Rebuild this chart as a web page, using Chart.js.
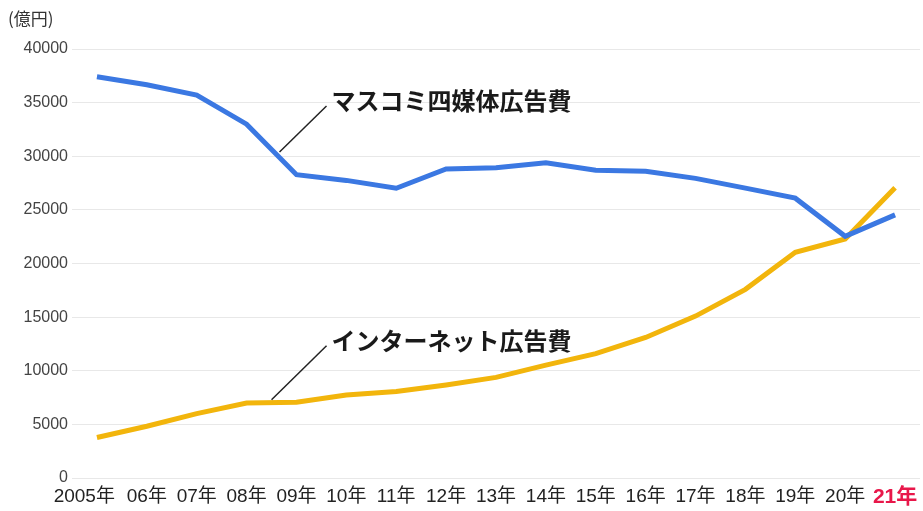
<!DOCTYPE html>
<html>
<head>
<meta charset="utf-8">
<script src="https://cdn.jsdelivr.net/npm/chart.js@4.4.1/dist/chart.umd.min.js"></script>
<style>
  html, body { margin: 0; padding: 0; background: #fff; }
  #wrap { width: 923px; height: 511px; position: relative; }
</style>
</head>
<body>
<div id="wrap"><canvas id="chart"></canvas></div>
<script>
var years = ['2005年', '06年', '07年', '08年', '09年', '10年', '11年', '12年', '13年', '14年', '15年', '16年', '17年', '18年', '19年', '20年', '21年'];
var massMedia = [37408, 36668, 35699, 32995, 28282, 27749, 27016, 28809, 28935, 29393, 28699, 28596, 27938, 27026, 26094, 22536, 24538];
var internet = [3777, 4826, 6003, 6983, 7069, 7747, 8062, 8680, 9381, 10519, 11594, 13100, 15094, 17589, 21048, 22290, 27052];
var yTicks = [0, 5000, 10000, 15000, 20000, 25000, 30000, 35000, 40000];

var lbl = "'Liberation Sans', 'Noto Sans CJK JP', sans-serif";
var jp = "'Noto Sans CJK JP', sans-serif";

// labels with leader lines, anchored to a point on each line (index, value)
var callouts = [
    { text: 'マスコミ四媒体広告費', at: [3.66, 30400], dx: 47, dy: -46 },
    { text: 'インターネット広告費', at: [3.5, 7300], dx: 55, dy: -54 }
];

var extras = {
    id: 'extras',
    afterDraw: function (chart) {
        var c = chart.ctx, x = chart.scales.x, y = chart.scales.y;
        c.save();
        // unit
        c.fillStyle = '#333';
        c.font = '17px ' + jp;
        c.textAlign = 'left';
        c.textBaseline = 'middle';
        c.fillText('(億円)', 8, 19);

        // x labels
        c.textBaseline = 'middle';
        years.forEach(function (t, i) {
            var px = x.getPixelForTick(i);
            var last = i === years.length - 1;
            c.font = last ? 'bold 21px ' + lbl : '19px ' + lbl;
            c.fillStyle = last ? '#e8174a' : '#222';
            if (i === 0) {
                c.textAlign = 'right';
                c.fillText(t, px + 18, 497);
            } else {
                c.textAlign = 'center';
                c.fillText(t, px, 497);
            }
        });

        // callouts
        callouts.forEach(function (o) {
            var sx = x.getPixelForValue(o.at[0]);
            var sy = y.getPixelForValue(o.at[1]);
            c.strokeStyle = '#222';
            c.lineWidth = 1.5;
            c.beginPath();
            c.moveTo(sx, sy);
            c.lineTo(sx + o.dx, sy + o.dy);
            c.stroke();
            c.fillStyle = '#1a1a1a';
            c.font = 'bold 24px ' + jp;
            c.textAlign = 'left';
            c.textBaseline = 'middle';
            c.fillText(o.text, sx + o.dx + 5, sy + o.dy - 5);
        });
        c.restore();
    }
};

var ctx = document.getElementById('chart').getContext('2d');
var myChart = new Chart(ctx, {
    type: 'line',
    data: {
        labels: years,
        datasets: [{
            label: 'マスコミ四媒体広告費',
            data: massMedia,
            borderColor: '#3b78e2',
            borderWidth: 5,
            pointRadius: 0,
            tension: 0
        }, {
            label: 'インターネット広告費',
            data: internet,
            borderColor: '#f2b50c',
            borderWidth: 5,
            pointRadius: 0,
            tension: 0
        }]
    },
    options: {
        responsive: true,
        maintainAspectRatio: false,
        animation: false,
        layout: { padding: { top: 49, right: 3, left: 0, bottom: 0 } },
        plugins: {
            legend: { display: false },
            tooltip: { enabled: false }
        },
        scales: {
            x: {
                offset: true,
                grid: { display: false },
                border: { display: false },
                ticks: { display: false },
                afterFit: function (s) { s.height = 33; }
            },
            y: {
                min: 0,
                max: 40000,
                afterBuildTicks: function (s) { s.ticks = yTicks.map(function (v) { return { value: v }; }); },
                grid: { color: '#e8e8e8', lineWidth: 1, drawTicks: false },
                border: { display: false },
                ticks: {
                    color: '#444',
                    font: { family: lbl, size: 16 },
                    padding: 4,
                    callback: function (v) { return String(v); }
                },
                afterFit: function (s) { s.width = 72; }
            }
        }
    },
    plugins: [extras]
});
</script>
</body>
</html>
